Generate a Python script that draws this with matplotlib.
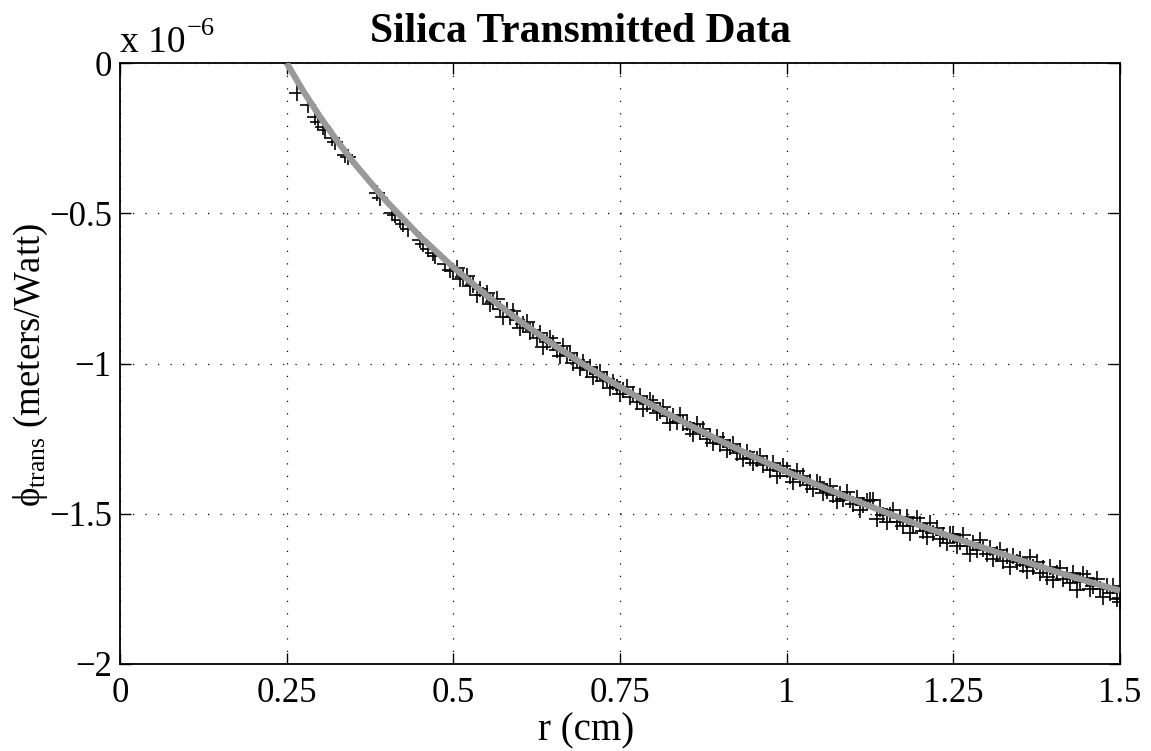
import matplotlib
matplotlib.use("Agg")
import matplotlib.pyplot as plt

plt.rcParams['font.family'] = ['Liberation Serif', 'DejaVu Serif']
plt.rcParams['mathtext.fontset'] = 'custom'
plt.rcParams['mathtext.rm'] = 'Liberation Serif'
plt.rcParams['mathtext.it'] = 'Liberation Serif:italic'
plt.rcParams['mathtext.bf'] = 'Liberation Serif:bold'
plt.rcParams['axes.unicode_minus'] = True

# ---------------- data (phi in units of 1e-6 m/W, r in cm) ----------------
title = "Silica Transmitted Data"
xlabel = "r (cm)"
ylabel = r"$\mathrm{\phi}_{\mathrm{trans}}$ (meters/Watt)"
x_ticks = [0, 0.25, 0.5, 0.75, 1.0, 1.25, 1.5]
x_ticklabels = ["0", "0.25", "0.5", "0.75", "1", "1.25", "1.5"]
y_ticks = [-2.0, -1.5, -1.0, -0.5, 0.0]
y_ticklabels = ["\u22122", "\u22121.5", "\u22121", "\u22120.5", "0"]
exp_base = "x 10"
exp_power = "\u22126"

# fitted curve (grey)
fit_r = [0.25, 0.275, 0.30, 0.325, 0.35, 0.40, 0.45, 0.50, 0.55, 0.60, 0.65, 0.70,
         0.75, 0.80, 0.85, 0.90, 0.95, 1.00, 1.05, 1.10, 1.15, 1.20, 1.25, 1.30,
         1.35, 1.40, 1.45, 1.50]
fit_phi = [0.0, -0.094, -0.179, -0.257, -0.330, -0.461, -0.577, -0.680, -0.774,
           -0.859, -0.937, -1.010, -1.078, -1.141, -1.201, -1.257, -1.310, -1.360,
           -1.408, -1.453, -1.497, -1.539, -1.579, -1.617, -1.654, -1.690, -1.724,
           -1.756]

# measured points, sparse early part
meas_r_early = [0.265, 0.2825, 0.2925, 0.2975, 0.305, 0.3075, 0.3175, 0.3225, 0.3375,
                0.3425, 0.385, 0.39, 0.4075, 0.4125, 0.42, 0.425, 0.4325, 0.45, 0.455,
                0.4625, 0.47, 0.4725, 0.4875, 0.495]
meas_phi_early = [-0.101, -0.140, -0.179, -0.195, -0.212, -0.223, -0.251, -0.262,
                  -0.306, -0.312, -0.434, -0.448, -0.500, -0.507, -0.522, -0.535,
                  -0.552, -0.589, -0.603, -0.618, -0.633, -0.642, -0.670, -0.689]

# measured points, dense part r = 0.500 ... 1.500
meas_r_dense = [round(0.5 + 0.005 * i, 3) for i in range(201)] + [1.5]
meas_phi_dense = [
    -0.692, -0.683, -0.719, -0.712, -0.708, -0.742, -0.738, -0.771, -0.751, -0.773,
    -0.766, -0.801, -0.797, -0.786, -0.818, -0.845, -0.823, -0.846, -0.824, -0.855,
    -0.881, -0.870, -0.863, -0.896, -0.890, -0.916, -0.897, -0.944, -0.928, -0.914,
    -0.933, -0.954, -0.976, -0.943, -0.972, -0.964, -0.997, -0.990, -1.015, -0.996,
    -1.022, -1.011, -1.044, -1.034, -1.027, -1.059, -1.053, -1.083, -1.060, -1.079,
    -1.100, -1.087, -1.079, -1.111, -1.103, -1.128, -1.107, -1.152, -1.135, -1.120,
    -1.133, -1.165, -1.159, -1.145, -1.175, -1.199, -1.175, -1.195, -1.171, -1.199,
    -1.197, -1.217, -1.236, -1.202, -1.229, -1.219, -1.251, -1.242, -1.266, -1.244,
    -1.269, -1.256, -1.288, -1.277, -1.268, -1.299, -1.291, -1.319, -1.295, -1.313,
    -1.332, -1.318, -1.308, -1.339, -1.330, -1.353, -1.331, -1.375, -1.357, -1.340,
    -1.356, -1.375, -1.394, -1.358, -1.385, -1.374, -1.405, -1.396, -1.418, -1.396,
    -1.400, -1.431, -1.423, -1.408, -1.436, -1.459, -1.433, -1.452, -1.426, -1.453,
    -1.469, -1.449, -1.488, -1.471, -1.458, -1.453, -1.453, -1.516, -1.483, -1.503,
    -1.526, -1.505, -1.489, -1.528, -1.514, -1.541, -1.510, -1.565, -1.540, -1.515,
    -1.534, -1.556, -1.578, -1.530, -1.563, -1.546, -1.584, -1.570, -1.597, -1.566,
    -1.569, -1.606, -1.595, -1.572, -1.607, -1.634, -1.599, -1.622, -1.586, -1.618,
    -1.633, -1.613, -1.650, -1.633, -1.619, -1.656, -1.642, -1.676, -1.642, -1.660,
    -1.649, -1.671, -1.692, -1.644, -1.676, -1.659, -1.697, -1.682, -1.709, -1.677,
    -1.719, -1.697, -1.681, -1.718, -1.704, -1.730, -1.698, -1.753, -1.726, -1.701,
    -1.714, -1.750, -1.739, -1.716, -1.751, -1.777, -1.741, -1.764, -1.739, -1.783,
    -1.780, -1.795,
]

W, H = 1151, 751
fig = plt.figure(figsize=(W / 100, H / 100), dpi=100)
ax = fig.add_axes([120 / W, 1 - 664 / H, 1000 / W, 601 / H])

ax.plot(meas_r_early + meas_r_dense, meas_phi_early + meas_phi_dense,
        linestyle='none', marker='+', color='black', markersize=12,
        markeredgewidth=1.2, zorder=3)
ax.plot(fit_r, fit_phi, color='#999999', linewidth=4.5, zorder=4,
        solid_capstyle='butt')

ax.set_xlim(0, 1.5)
ax.set_ylim(-2, 0)
ax.set_xticks(x_ticks)
ax.set_xticklabels(x_ticklabels)
ax.set_yticks(y_ticks)
ax.set_yticklabels(y_ticklabels)
ax.tick_params(direction='in', length=8, width=1, top=True, right=True,
               labelsize=25, color='black')
ax.tick_params(axis='x', pad=9)
ax.tick_params(axis='y', pad=6)
ax.grid(True, color='black', linestyle=(0, (1, 9)), linewidth=0.9)
for s in ax.spines.values():
    s.set_linewidth(1.3)

fig.text(580 / W, 1 - 42 / H, title, ha='center', va='baseline',
         fontsize=30, fontweight='bold')
fig.text(586 / W, 1 - 740 / H, xlabel, ha='center', va='baseline', fontsize=28)
fig.text(31 / W, 1 - 365 / H, ylabel, ha='center', va='center',
         rotation=90, fontsize=26.5)
fig.text(120 / W, 1 - 52 / H, exp_base, ha='left', va='baseline', fontsize=27)
fig.text(187 / W, 1 - 35 / H, exp_power, ha='left', va='baseline', fontsize=19)

fig.savefig("out.png", dpi=100)
